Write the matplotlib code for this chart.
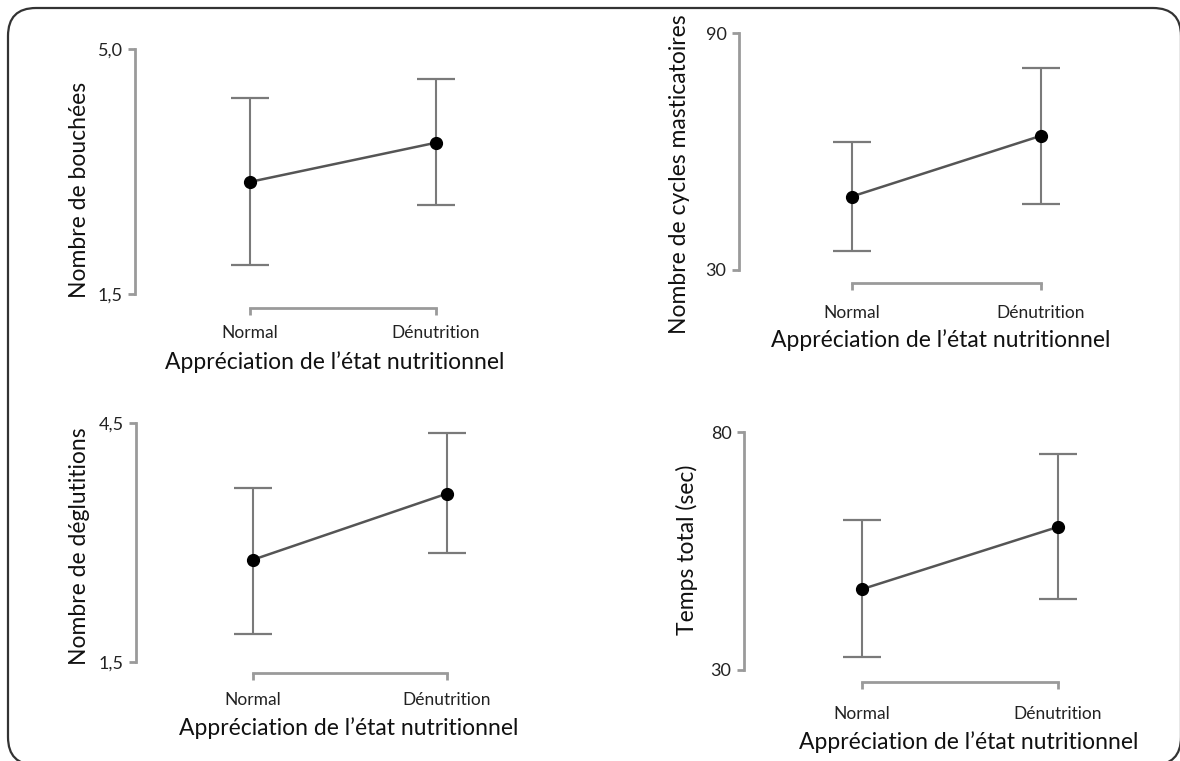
import matplotlib
matplotlib.use("Agg")
import matplotlib.pyplot as plt
from matplotlib.patches import FancyBboxPatch
from matplotlib.transforms import IdentityTransform
from matplotlib.ticker import FuncFormatter

plt.rcParams["font.family"] = ["Lato", "DejaVu Sans"]

W, H = 1180, 761

# --- data (moyennes et bornes des IC) ---
groups = ["Normal", "Dénutrition"]
xlabel = "Appréciation de l\u2019état nutritionnel"

bouchees_mean = [3.10, 3.66]
bouchees_low = [1.91, 2.77]
bouchees_high = [4.30, 4.57]

cycles_mean = [48.6, 64.0]
cycles_low = [34.9, 46.7]
cycles_high = [62.5, 81.3]

deglut_mean = [2.78, 3.61]
deglut_low = [1.85, 2.87]
deglut_high = [3.68, 4.37]

temps_mean = [47.0, 60.1]
temps_low = [32.8, 44.9]
temps_high = [61.5, 75.4]

panels = [
    ("Nombre de bouchées", (1.5, 5.0), 1, bouchees_mean, bouchees_low, bouchees_high),
    ("Nombre de cycles masticatoires", (30, 90), 0, cycles_mean, cycles_low, cycles_high),
    ("Nombre de déglutitions", (1.5, 4.5), 1, deglut_mean, deglut_low, deglut_high),
    ("Temps total (sec)", (30, 80), 0, temps_mean, temps_low, temps_high),
]

# mise en page en pixels de l'image
layouts = [
    dict(spine=135, x0=249.5, x1=435.5, top=49, bot=294, bracket=308, tpad=7.5, xlab=(335, 362), ylab=(79, 190)),
    dict(spine=739, x0=851.5, x1=1040.7, top=33.3, bot=270, bracket=283, tpad=10.5, xlab=(941, 340), ylab=(680, 174)),
    dict(spine=136, x0=253, x1=447, top=422.7, bot=661.7, bracket=673, tpad=9.0, xlab=(349, 728), ylab=(80, 546)),
    dict(spine=744, x0=862, x1=1058, top=432.3, bot=670, bracket=682, tpad=12.0, xlab=(969, 742), ylab=(687, 550)),
]

fig = plt.figure(figsize=(W / 100, H / 100), dpi=100)

# cadre arrondi
bg = fig.add_axes([0, 0, 1, 1], zorder=-1)
bg.set_xlim(0, W); bg.set_ylim(0, H); bg.axis("off")
bg.add_patch(FancyBboxPatch((8, H - 765), 1173, 757, boxstyle="round,pad=0,rounding_size=28",
                            fc="none", ec="#333333", lw=1.6, clip_on=False))

axis_col = "#9a9a9a"
for (ylab, (ymin, ymax), dec, mean, low, high), L in zip(panels, layouts):
    u = L["x1"] - L["x0"]
    right = L["x1"] + 70
    ax = fig.add_axes([L["spine"] / W, 1 - L["bot"] / H,
                       (right - L["spine"]) / W, (L["bot"] - L["top"]) / H])
    ax.set_xlim((L["spine"] - L["x0"]) / u, (right - L["x0"]) / u)
    ax.set_ylim(ymin, ymax)

    x = [0, 1]
    yerr = [[m - lo for m, lo in zip(mean, low)], [hi - m for m, hi in zip(mean, high)]]
    ax.errorbar(x, mean, yerr=yerr, fmt="none", ecolor="#7a7a7a", elinewidth=1.5,
                capsize=13.5, capthick=1.6, zorder=2)
    ax.plot(x, mean, color="#555555", lw=1.8, zorder=3)
    ax.plot(x, mean, "o", color="black", ms=8.5, zorder=4)

    for s in ("top", "right"):
        ax.spines[s].set_visible(False)
    ax.spines["left"].set_color(axis_col)
    ax.spines["left"].set_linewidth(2)
    ax.spines["bottom"].set_color(axis_col)
    ax.spines["bottom"].set_linewidth(2)
    ax.spines["bottom"].set_bounds(0, 1)
    ax.spines["bottom"].set_position(("outward", (L["bracket"] - L["bot"]) * 0.72))

    ax.set_yticks([ymin, ymax])
    ax.yaxis.set_major_formatter(FuncFormatter(lambda v, p, d=dec: f"{v:.{d}f}".replace(".", ",")))
    ax.tick_params(axis="y", length=5, width=2, color=axis_col, pad=4, labelsize=13, labelcolor="#222222")
    ax.set_xticks(x)
    ax.set_xticklabels(groups)
    ax.tick_params(axis="x", length=5, width=2, color=axis_col, pad=L["tpad"], labelsize=12.5, labelcolor="#222222")

    ax.set_xlabel(xlabel, fontsize=16.5, color="#111111", va="center")
    ax.xaxis.set_label_coords(L["xlab"][0], H - L["xlab"][1], transform=IdentityTransform())
    ax.set_ylabel(ylab, fontsize=16.5, color="#111111", va="center")
    ax.yaxis.set_label_coords(L["ylab"][0], H - L["ylab"][1], transform=IdentityTransform())

fig.savefig("out.png", dpi=100)
